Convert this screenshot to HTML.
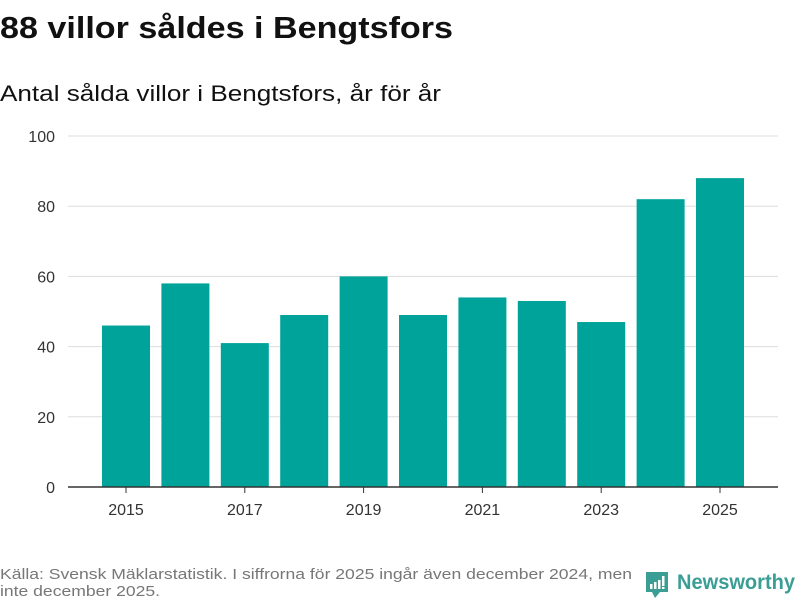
<!DOCTYPE html>
<html><head><meta charset="utf-8"><style>
body{margin:0;width:800px;height:600px;background:#fff;font-family:"Liberation Sans","DejaVu Sans",sans-serif;overflow:hidden}
</style></head><body>
<svg width="800" height="600" xmlns="http://www.w3.org/2000/svg">
<text x="0" y="38" font-size="31" font-weight="bold" fill="#111" textLength="453" lengthAdjust="spacingAndGlyphs">88 villor såldes i Bengtsfors</text>
<text x="0" y="101" font-size="22" fill="#111" textLength="441" lengthAdjust="spacingAndGlyphs">Antal sålda villor i Bengtsfors, år för år</text>
<g id="grid"></g>
<g id="bars"></g>
<g id="xaxis"></g>
<text x="0" y="579" font-size="15" fill="#777" textLength="632" lengthAdjust="spacingAndGlyphs">Källa: Svensk Mäklarstatistik. I siffrorna för 2025 ingår även december 2024, men</text>
<text x="0" y="596" font-size="15" fill="#777" textLength="160" lengthAdjust="spacingAndGlyphs">inte december 2025.</text>
<g>
<path d="M646 572h22v20h-8l-5 6l-3-6h-6z" fill="#3a9e95"/>
<rect x="650" y="584" width="2.5" height="5" fill="#fff"/><rect x="654" y="582" width="2.5" height="7" fill="#fff"/><rect x="658" y="580" width="2.5" height="9" fill="#fff"/><rect x="662" y="576" width="2.5" height="10" fill="#fff"/><rect x="662" y="587" width="2.5" height="2" fill="#fff"/>
<text x="677" y="589" font-size="21" font-weight="bold" fill="#3a9e95" textLength="118" lengthAdjust="spacingAndGlyphs">Newsworthy</text>
</g>
</svg>
<script>
const years=[2015,2016,2017,2018,2019,2020,2021,2022,2023,2024,2025];
const values=[46,58,41,49,60,49,54,53,47,82,88];
const yTicks=[0,20,40,60,80,100];
const xLabels=[2015,2017,2019,2021,2023,2025];
const NS="http://www.w3.org/2000/svg";
const y=v=>487-v*3.51;
const x=yr=>126+(yr-2015)*59.4;
const grid=document.getElementById('grid'),bars=document.getElementById('bars'),xa=document.getElementById('xaxis');
function mk(tag,attrs,parent){const e=document.createElementNS(NS,tag);for(const k in attrs)e.setAttribute(k,attrs[k]);parent.appendChild(e);return e;}
yTicks.forEach(t=>{
 if(t>0){const l=mk('line',{x1:68,x2:778,y1:y(t),y2:y(t),stroke:'#ddd','stroke-width':1},grid);
 
 }
 const tx=mk('text',{x:55,y:y(t)+6,'font-size':16,fill:'#333','text-anchor':'end'},grid);tx.textContent=t;
 
 
});
years.forEach((yr,i)=>{
 const r=mk('rect',{x:x(yr)-24,y:y(values[i]),width:48,height:y(0)-y(values[i]),fill:'#00a39a'},bars);
 
 
});
const ax=mk('line',{x1:68,x2:778,y1:487,y2:487,stroke:'#333','stroke-width':1.5},xa);


xLabels.forEach(yr=>{
 const tk=mk('line',{x1:x(yr),x2:x(yr),y1:487,y2:493,stroke:'#333'},xa);
 
 
 const t=mk('text',{x:x(yr),y:515,'font-size':16,fill:'#333','text-anchor':'middle'},xa);t.textContent=yr;
 
 
});
</script>
</body></html>
